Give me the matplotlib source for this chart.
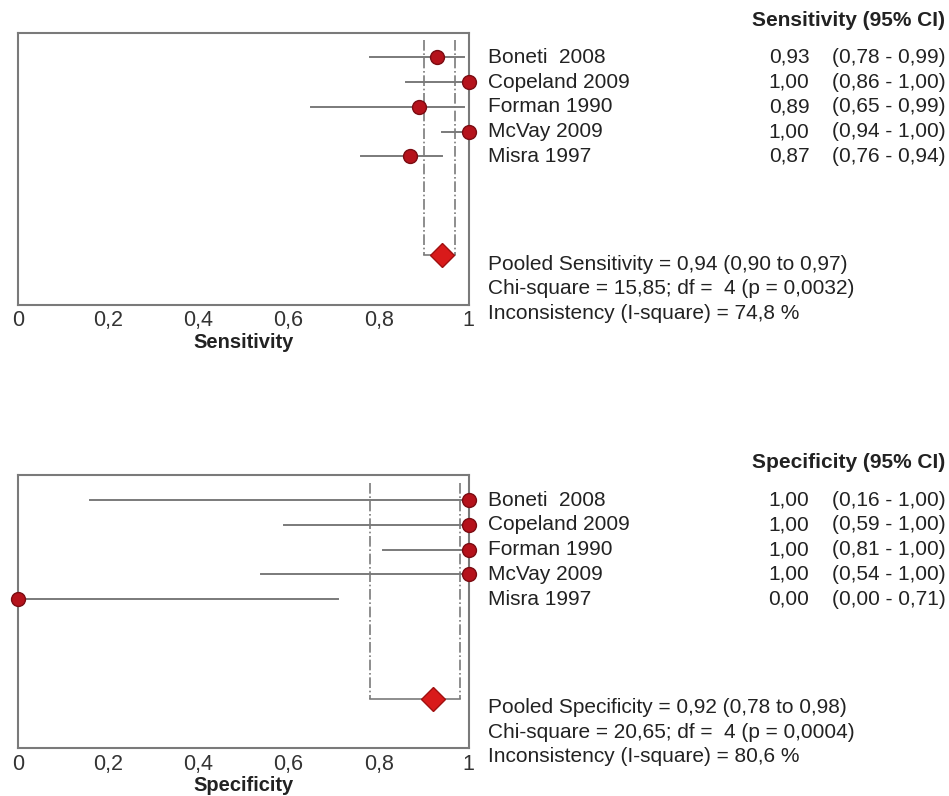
import matplotlib
matplotlib.use("Agg")
import matplotlib.pyplot as plt
from matplotlib.transforms import blended_transform_factory

plt.rcParams['font.family'] = ['Liberation Sans', 'DejaVu Sans']

studies = ['Boneti  2008', 'Copeland 2009', 'Forman 1990', 'McVay 2009', 'Misra 1997']

sens = [0.93, 1.00, 0.89, 1.00, 0.87]
sens_lo = [0.78, 0.86, 0.65, 0.94, 0.76]
sens_hi = [0.99, 1.00, 0.99, 1.00, 0.94]
sens_pooled = [0.94, 0.90, 0.97]
sens_chi = [15.85, 4, 0.0032]
sens_i2 = 74.8

spec = [1.00, 1.00, 1.00, 1.00, 0.00]
spec_lo = [0.16, 0.59, 0.81, 0.54, 0.00]
spec_hi = [1.00, 1.00, 1.00, 1.00, 0.71]
spec_pooled = [0.92, 0.78, 0.98]
spec_chi = [20.65, 4, 0.0004]
spec_i2 = 80.6

ticks = [0, 0.2, 0.4, 0.6, 0.8, 1]
tick_labels = ['0', '0,2', '0,4', '0,6', '0,8', '1']


def fmt(v, d=2):
    return f"{v:.{d}f}".replace('.', ',')


def panel(fig, rect, name, est, lo, hi, pooled, chi, i2):
    ax = fig.add_axes(rect)
    rows = list(range(1, len(est) + 1))
    pooled_y = 9
    grey = '#7a7a7a'

    # pooled CI dashed lines and bracket
    ax.plot([pooled[1], pooled[1]], [0.3, pooled_y], color=grey, ls='-.', lw=1.2)
    ax.plot([pooled[2], pooled[2]], [0.3, pooled_y], color=grey, ls='-.', lw=1.2)
    ax.plot([pooled[1], pooled[2]], [pooled_y, pooled_y], color=grey, lw=1.2)

    for y, e, l, h in zip(rows, est, lo, hi):
        ax.plot([l, h], [y, y], color=grey, lw=1.4, zorder=2)
    ax.plot(est, rows, 'o', color='#b5121b', mec='#7a0c12', ms=10, zorder=3, clip_on=False)
    ax.plot([pooled[0]], [pooled_y], 'D', color='#d91a1a', mec='#a01010', ms=12, zorder=3)

    ax.set_xlim(0, 1)
    ax.set_ylim(11, 0)
    ax.set_yticks([])
    ax.set_xticks(ticks)
    ax.set_xticklabels(tick_labels, fontsize=15.5, color='#333333')
    ax.tick_params(axis='x', length=0, pad=4)
    ax.set_xlabel(name, fontsize=14.5, fontweight='bold', color='#222222', labelpad=1)
    for s in ax.spines.values():
        s.set_color('#7a7a7a')
        s.set_linewidth(1.5)

    tr = blended_transform_factory(fig.transFigure, ax.transData)
    kw = dict(transform=tr, fontsize=15, color='#222222', va='center', clip_on=False)
    ax.text(0.996, -0.5, name + ' (95% CI)', ha='right', fontweight='bold', fontsize=15,
            transform=tr, color='#222222', va='center')
    for y, s, e, l, h in zip(rows, studies, est, lo, hi):
        ax.text(0.514, y, s, ha='left', **kw)
        ax.text(0.853, y, fmt(e), ha='right', **kw)
        ax.text(0.877, y, f"({fmt(l)} - {fmt(h)})", ha='left', **kw)

    ax.text(0.514, 9.35, f"Pooled {name} = {fmt(pooled[0])} ({fmt(pooled[1])} to {fmt(pooled[2])})",
            ha='left', **kw)
    ax.text(0.514, 10.35, f"Chi-square = {fmt(chi[0])}; df =  {chi[1]} (p = {fmt(chi[2], 4)})",
            ha='left', **kw)
    ax.text(0.514, 11.35, f"Inconsistency (I-square) = {fmt(i2, 1)} %", ha='left', **kw)
    return ax


fig = plt.figure(figsize=(9.49, 7.96), dpi=100)
panel(fig, [0.019, 0.617, 0.475, 0.342], 'Sensitivity', sens, sens_lo, sens_hi,
      sens_pooled, sens_chi, sens_i2)
panel(fig, [0.019, 0.060, 0.475, 0.343], 'Specificity', spec, spec_lo, spec_hi,
      spec_pooled, spec_chi, spec_i2)

fig.savefig('out.png', dpi=100)
